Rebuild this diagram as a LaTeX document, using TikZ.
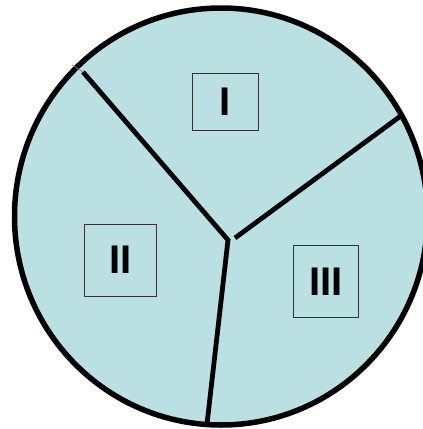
\documentclass[tikz,border=0pt]{standalone}
\usepackage{fontspec}
\setmainfont{Liberation Sans}
\definecolor{pie}{HTML}{BBE0E3}
\definecolor{boxline}{HTML}{333333}
\begin{document}
\begin{tikzpicture}[x=1pt,y=-1pt,
  divider/.style={line width=4.8pt,line join=miter},
  labelbox/.style={draw=boxline,line width=0.9pt,inner sep=0pt,
    font=\fontsize{40}{40}\selectfont\bfseries}]
\useasboundingbox (0,0) rectangle (423,429);
\begin{scope}
\clip (0,0) rectangle (423,429);
\fill[pie,draw=black,line width=5.5pt] (221,216.5) ellipse [x radius=206.5, y radius=208.5];
\end{scope}
\coordinate (c) at (228,240);
\coordinate (a) at (83,72);
\coordinate (a0) at (72,65);
\coordinate (b) at (402,115);
\coordinate (b0) at (235,238);
\coordinate (d) at (207,424);
\draw[divider] (a) -- (c) -- (d);
\draw[divider] (b) -- (b0);
\draw[line width=0.7pt,gray] (a0) -- (a);
\node[labelbox,minimum width=66pt,minimum height=57pt] (one) at (225,101.5) {I};
\node[labelbox,minimum width=72pt,minimum height=72pt] (two) at (120.5,260) {II};
\node[labelbox,minimum width=65pt,minimum height=72pt] (three) at (326,281.7) {III};
\end{tikzpicture}
\end{document}
